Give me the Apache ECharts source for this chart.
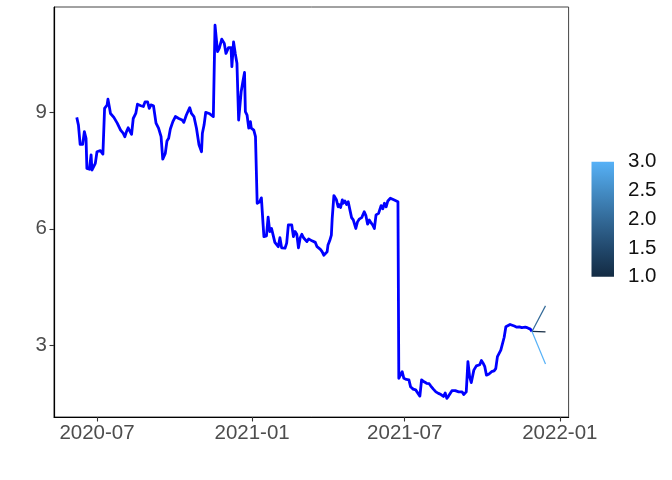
<!DOCTYPE html>
<html>
<head>
<meta charset="utf-8">
<script src="https://cdn.jsdelivr.net/npm/echarts@6/dist/echarts.min.js"></script>
<style>html,body{margin:0;padding:0;background:#fff;}#chart{width:672px;height:480px;}</style>
</head>
<body>
<div id="chart"></div>
<script>
const dates = [
'2020-06-07','2020-06-09','2020-06-11','2020-06-14','2020-06-16','2020-06-18','2020-06-19','2020-06-22','2020-06-24','2020-06-25',
'2020-06-27','2020-06-29','2020-07-01','2020-07-05','2020-07-08','2020-07-10','2020-07-13','2020-07-14','2020-07-16','2020-07-17',
'2020-07-21','2020-07-25','2020-07-29','2020-08-01','2020-08-03','2020-08-05','2020-08-07','2020-08-11','2020-08-13','2020-08-16',
'2020-08-18','2020-08-22','2020-08-25','2020-08-27','2020-08-30','2020-09-01','2020-09-03','2020-09-06','2020-09-09','2020-09-12',
'2020-09-15','2020-09-17','2020-09-20','2020-09-22','2020-09-24','2020-09-26','2020-09-29','2020-10-02','2020-10-06','2020-10-10',
'2020-10-12','2020-10-15','2020-10-17','2020-10-19','2020-10-21','2020-10-24','2020-10-27','2020-10-30','2020-11-02','2020-11-03',
'2020-11-05','2020-11-07','2020-11-11','2020-11-16','2020-11-18','2020-11-21','2020-11-23','2020-11-26','2020-11-29','2020-12-01',
'2020-12-04','2020-12-07','2020-12-08','2020-12-10','2020-12-12','2020-12-14','2020-12-16','2020-12-18','2020-12-19','2020-12-21',
'2020-12-23','2020-12-24','2020-12-26','2020-12-28','2020-12-30','2020-12-31','2021-01-03','2021-01-05','2021-01-07','2021-01-10',
'2021-01-12','2021-01-14','2021-01-15','2021-01-18','2021-01-20','2021-01-22','2021-01-24','2021-01-26','2021-01-28','2021-01-30',
'2021-02-01','2021-02-03','2021-02-05','2021-02-07','2021-02-09','2021-02-11','2021-02-13','2021-02-17','2021-02-19','2021-02-21',
'2021-02-23','2021-02-25','2021-02-27','2021-03-01','2021-03-03','2021-03-05','2021-03-07','2021-03-09','2021-03-11','2021-03-13',
'2021-03-15','2021-03-17','2021-03-19','2021-03-21','2021-03-23','2021-03-25','2021-03-27','2021-03-29','2021-03-31','2021-04-01',
'2021-04-03','2021-04-05','2021-04-06','2021-04-08','2021-04-11','2021-04-13','2021-04-14','2021-04-16','2021-04-18','2021-04-19',
'2021-04-21','2021-04-23','2021-04-25','2021-04-27','2021-04-29','2021-05-01','2021-05-03','2021-05-04','2021-05-06','2021-05-08',
'2021-05-11','2021-05-14','2021-05-16','2021-05-18','2021-05-20','2021-05-22','2021-05-24','2021-05-26','2021-05-28','2021-05-31',
'2021-06-02','2021-06-03','2021-06-05','2021-06-07','2021-06-09','2021-06-11','2021-06-14','2021-06-16','2021-06-18','2021-06-20',
'2021-06-23','2021-06-24','2021-06-26','2021-06-28','2021-06-30','2021-07-03','2021-07-06','2021-07-08','2021-07-11','2021-07-14',
'2021-07-16','2021-07-19','2021-07-21','2021-07-24','2021-07-27','2021-07-30','2021-08-01','2021-08-04','2021-08-07','2021-08-10',
'2021-08-13','2021-08-16','2021-08-18','2021-08-20','2021-08-22','2021-08-24','2021-08-26','2021-08-30','2021-09-03','2021-09-07',
'2021-09-09','2021-09-12','2021-09-14','2021-09-16','2021-09-18','2021-09-21','2021-09-24','2021-09-26','2021-09-28','2021-09-30',
'2021-10-02','2021-10-04','2021-10-06','2021-10-09','2021-10-12','2021-10-15','2021-10-17','2021-10-19','2021-10-21','2021-10-23',
'2021-10-25','2021-10-27','2021-10-29','2021-10-31','2021-11-03','2021-11-05','2021-11-08','2021-11-11','2021-11-14','2021-11-17',
'2021-11-21','2021-11-24','2021-11-27','2021-11-29'
];
const values = [
8.88,8.68,8.18,8.18,8.51,8.34,7.56,7.54,7.91,7.52,
7.49,7.69,7.99,8.02,7.93,9.11,9.20,9.35,9.11,8.98,
8.88,8.73,8.55,8.47,8.38,8.51,8.61,8.44,8.85,8.98,
9.22,9.18,9.16,9.28,9.28,9.11,9.20,9.18,8.73,8.60,
8.38,7.80,7.95,8.27,8.34,8.58,8.77,8.90,8.85,8.81,
8.75,8.94,8.98,9.13,8.98,8.90,8.60,8.17,7.99,8.47,
8.68,9.01,8.98,8.90,11.26,10.58,10.66,10.90,10.79,10.53,
10.68,10.68,10.19,10.83,10.53,10.28,8.81,8.77,9.54,9.80,
10.04,9.03,8.94,8.60,8.77,8.60,8.55,8.38,6.66,6.70,
6.80,6.12,5.80,5.82,6.30,5.93,6.01,6.02,5.65,5.68,
5.54,5.77,5.51,5.54,5.50,5.63,6.10,6.10,5.80,5.93,
5.86,5.51,5.77,5.86,5.77,5.76,5.67,5.74,5.69,5.69,
5.67,5.65,5.54,5.51,5.47,5.41,5.32,5.31,5.41,5.58,
5.69,5.84,6.27,6.86,6.75,6.57,6.63,6.55,6.75,6.66,
6.72,6.63,6.70,6.49,6.29,6.23,6.18,6.01,6.18,6.25,
6.29,6.44,6.34,6.12,6.23,6.16,6.10,6.01,6.36,6.40,
6.40,6.60,6.52,6.66,6.57,6.72,6.79,6.75,6.75,6.72,
6.70,2.14,2.18,2.31,2.14,2.11,2.10,1.92,1.86,1.84,
1.79,1.68,2.10,2.05,2.01,2.00,1.94,1.86,1.79,1.75,
1.72,1.67,1.76,1.62,1.68,1.65,1.82,1.82,1.79,1.79,
1.72,1.79,2.57,2.18,2.03,2.35,2.46,2.46,2.49,2.60,
2.53,2.44,2.22,2.25,2.31,2.33,2.39,2.70,2.66,2.87,
2.88,3.20,3.47,3.47,3.53,3.49,3.49,3.46,3.47,3.45,
3.46,3.44,3.41,3.35
];
// forecast paths, grouped 1..3 (colour scale)
const forecastDates = ['2021-11-29','2021-12-15'];
const forecast1 = [3.35, 3.34];
const forecast2 = [3.35, 4.01];
const forecast3 = [3.35, 2.51];
const groupValues = [1, 2, 3];
const colorLow = '#132B43', colorMid = '#336A98', colorHigh = '#56B1F7';
const groupColors = [colorLow, colorMid, colorHigh];
const xTickLabels = ['2020-07', '2021-01', '2021-07', '2022-01'];
const yTicks = [3, 6, 9];
const legendTicks = [1.0, 1.5, 2.0, 2.5, 3.0];

const FONT = 'Liberation Sans';
const ts = s => +new Date(s.length > 10 ? s : s + 'T00:00:00');
const xTicks = xTickLabels.map(s => ts(s + '-01'));
const pad = n => String(n).padStart(2, '0');

const chart = echarts.init(document.getElementById('chart'), null, {renderer: 'canvas'});
const fcSeries = [forecast1, forecast2, forecast3].map((arr, i) => ({
  type: 'line', xAxisIndex: 0, yAxisIndex: 0,
  data: forecastDates.map((d, j) => [ts(d), arr[j]]),
  showSymbol: false, silent: true,
  lineStyle: {color: groupColors[i], width: 1.2},
  z: 4
}));

chart.setOption({
  animation: false,
  backgroundColor: '#ffffff',
  grid: [
    {left: 54, right: 103.4, top: 7, bottom: 63, show: true, borderColor: '#444', borderWidth: 1, backgroundColor: '#fff'},
    {left: 591.5, top: 161.7, width: 22.5, height: 115}
  ],
  xAxis: [
    {
      type: 'value', gridIndex: 0,
      min: ts('2020-05-11'), max: ts('2022-01-11T10:00:00'),
      axisLine: {show: true, onZero: false, lineStyle: {color: '#000', width: 1.2}},
      axisTick: {show: true, length: 4.5, lineStyle: {color: '#333', width: 1.1}, customValues: xTicks},
      axisLabel: {
        customValues: xTicks, margin: 6, color: '#4D4D4D', fontSize: 20.5, fontFamily: FONT,
        formatter: v => { const d = new Date(v); return d.getFullYear() + '-' + pad(d.getMonth() + 1); }
      },
      splitLine: {show: false}
    },
    {type: 'category', gridIndex: 1, data: ['bar'], show: false, boundaryGap: true}
  ],
  yAxis: [
    {
      type: 'value', gridIndex: 0, min: 1.14, max: 11.73,
      axisLine: {show: true, onZero: false, lineStyle: {color: '#000', width: 1.2}},
      axisTick: {show: true, length: 4.5, lineStyle: {color: '#333', width: 1.1}, customValues: yTicks},
      axisLabel: {customValues: yTicks, margin: 7, color: '#4D4D4D', fontSize: 20.5, fontFamily: FONT, padding: [2, 0, 0, 0]},
      splitLine: {show: false}
    },
    {
      type: 'value', gridIndex: 1, min: 1, max: 3, position: 'right',
      axisLine: {show: false},
      axisTick: {show: true, inside: true, length: 4.5, lineStyle: {color: '#ffffff', width: 0.9}, customValues: [1.5, 2, 2.5]},
      axisLabel: {customValues: legendTicks, margin: 14, color: '#111', fontSize: 20.5, fontFamily: FONT, padding: [4, 0, 0, 0], formatter: v => v.toFixed(1)},
      splitLine: {show: false}
    },
    {
      type: 'value', gridIndex: 1, min: 1, max: 3, position: 'left',
      axisLine: {show: false},
      axisTick: {show: true, inside: true, length: 4.5, lineStyle: {color: '#ffffff', width: 0.9}, customValues: [1.5, 2, 2.5]},
      axisLabel: {show: false},
      splitLine: {show: false}
    }
  ],
  series: [
    {
      type: 'line', xAxisIndex: 0, yAxisIndex: 0,
      data: dates.map((d, i) => [ts(d), values[i]]),
      showSymbol: false, silent: true,
      lineStyle: {color: '#0000FF', width: 2.8, join: 'round'},
      z: 3
    },
    ...fcSeries,
    {
      type: 'bar', xAxisIndex: 1, yAxisIndex: 1, stack: 'cb', barWidth: '100%', silent: true,
      data: [groupValues[0]], itemStyle: {color: 'rgba(0,0,0,0)'}, z: 1
    },
    {
      type: 'bar', xAxisIndex: 1, yAxisIndex: 1, stack: 'cb', barWidth: '100%', silent: true,
      data: [groupValues[2] - groupValues[0]],
      itemStyle: {color: new echarts.graphic.LinearGradient(0, 0, 0, 1, [
        {offset: 0, color: colorHigh},
        {offset: 0.25, color: '#448DC6'},
        {offset: 0.5, color: colorMid},
        {offset: 0.75, color: '#22496D'},
        {offset: 1, color: colorLow}
      ])},
      z: 1
    }
  ]
});
</script>
</body>
</html>
